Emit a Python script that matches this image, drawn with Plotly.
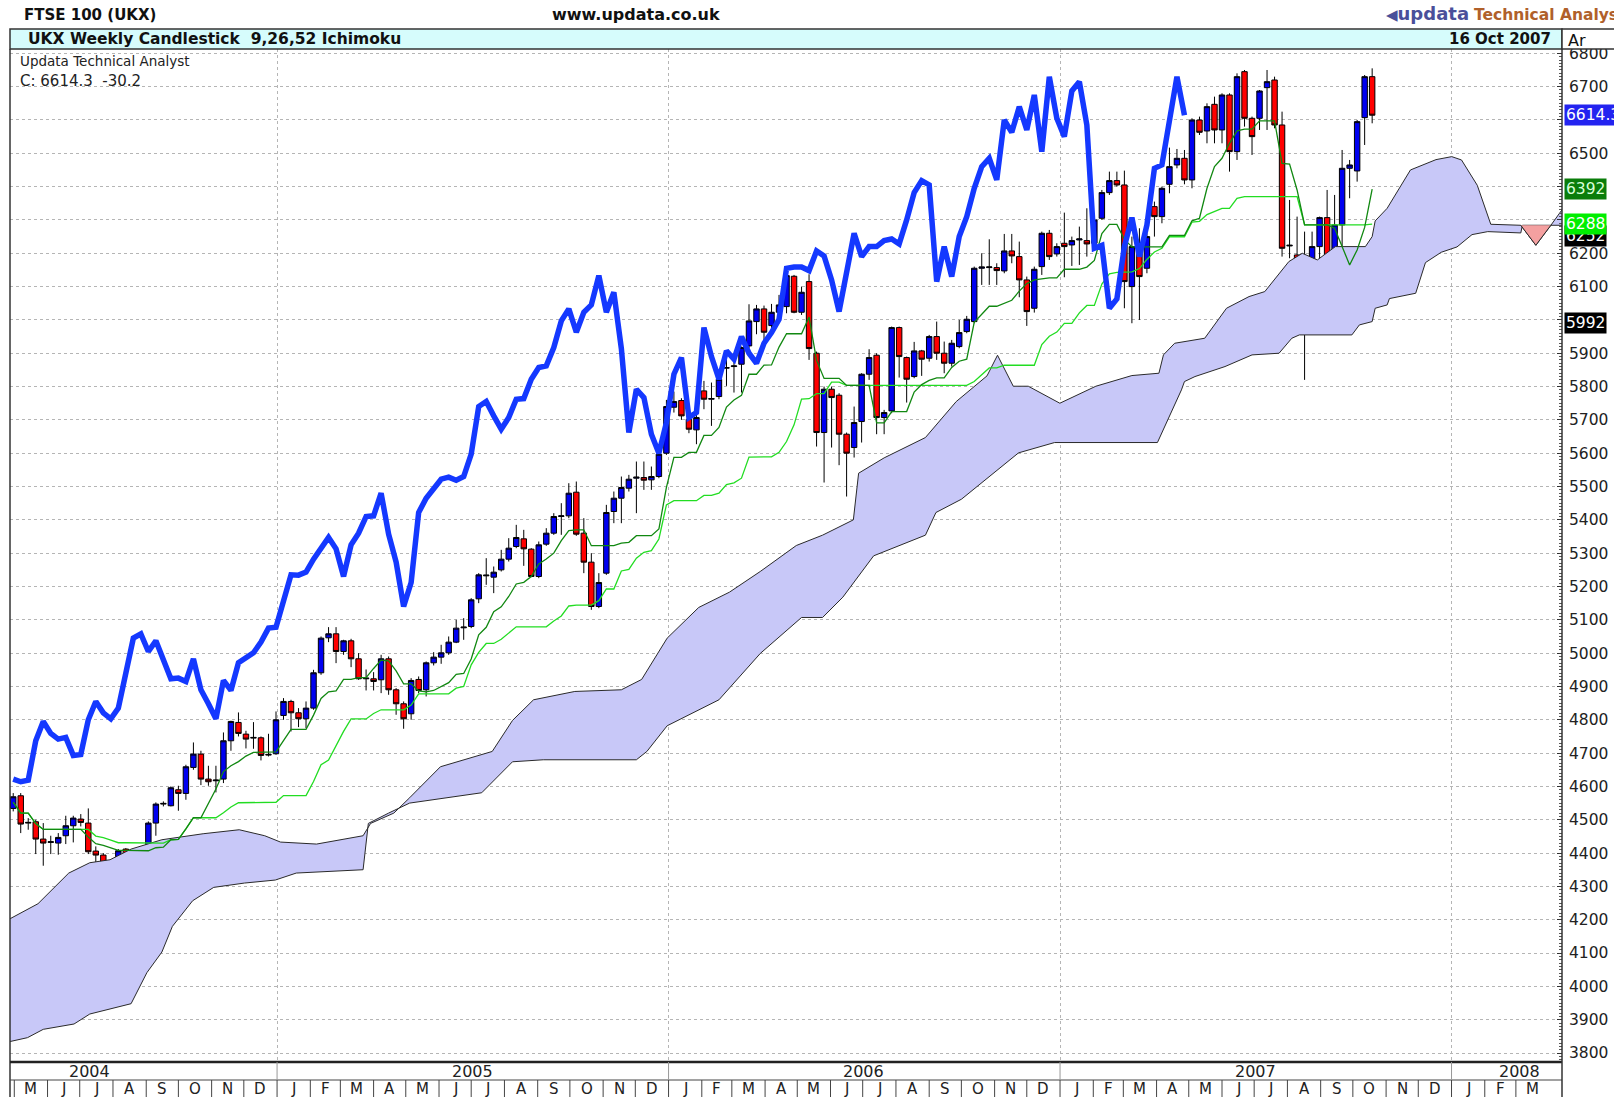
import pandas as pd
import plotly.graph_objects as go

# ---------------- weekly candles (UKX) ----------------
opens = [4534,4572,4490,4494,4442,4432,4430,4452,4482,4502,4490,4406,4394,4337,4324,4412,4337,4304,4370,4490,
         4547,4542,4590,4579,4657,4697,4622,4617,4622,4737,4792,4757,4745,4746,4694,4698,4813,4855,4821,4803,
         4835,4941,5046,5058,5005,5037,4983,4923,4923,4920,4983,4890,4848,4818,4921,4890,4971,4988,5001,5033,
         5076,5080,5163,5232,5228,5250,5282,5320,5343,5312,5230,5327,5360,5410,5412,5483,5360,5273,5140,5240,
         5425,5465,5495,5525,5527,5520,5530,5600,5738,5758,5702,5670,5787,5762,5770,5855,5860,5867,5922,5995,6033,
         5983,6023,6040,6131,6023,6115,5900,5662,5792,5774,5657,5617,5695,5837,5894,5707,5727,5977,5887,5830,
         5907,5885,5950,5900,5870,5920,5965,5995,6155,6157,6157,6147,6207,6190,6120,6035,6160,6260,6198,6230,
         6225,6240,6238,6230,6305,6382,6418,6405,6100,6200,6155,6340,6310,6407,6465,6485,6420,6600,6567,6647,
         6570,6675,6505,6745,6605,6605,6697,6720,6585,6222,6195,6070,6065,6220,6307,6197,6285,6455,6447,6607,
         6730]
highs = [4580,4580,4505,4500,4490,4452,4460,4512,4512,4517,4534,4420,4400,4357,4412,4415,4362,4382,4495,4552,
         4555,4600,4602,4665,4732,4707,4662,4662,4762,4797,4822,4767,4793,4750,4758,4825,4865,4860,4835,4855,
         4950,5050,5078,5078,5040,5043,5000,4951,4943,4995,4990,4895,4855,4925,4930,4975,5003,5025,5050,5100,
         5105,5165,5240,5285,5260,5310,5345,5385,5370,5315,5335,5375,5420,5450,5510,5515,5405,5300,5240,5445,
         5485,5530,5535,5575,5575,5560,5610,5760,5785,5765,5720,5730,5817,5812,5830,5882,5892,5920,6047,6045,6043,
         6048,6075,6135,6135,6100,6137,5905,5800,5800,5780,5662,5740,5840,5912,5900,5730,5980,5980,5890,5934,
         5910,5955,5995,5935,5940,6000,6012,6160,6200,6242,6170,6258,6258,6235,6130,6160,6265,6270,6230,6322,
         6250,6280,6335,6320,6390,6445,6445,6448,6250,6275,6260,6355,6400,6517,6513,6510,6605,6610,6650,6670,
         6680,6680,6740,6750,6610,6690,6750,6730,6625,6360,6310,6265,6265,6310,6390,6375,6510,6480,6600,6735,
         6755]
lows = [4525,4460,4470,4397,4362,4397,4395,4427,4432,4480,4397,4322,4312,4297,4282,4330,4292,4280,4365,4452,
        4540,4540,4527,4560,4650,4604,4602,4582,4610,4707,4750,4714,4713,4678,4690,4695,4800,4765,4778,4775,
        4830,4935,5033,4970,4995,4958,4920,4888,4888,4880,4875,4815,4773,4800,4880,4870,4963,4968,4995,5030,
        5040,5075,5150,5205,5180,5245,5275,5315,5262,5228,5225,5322,5355,5355,5405,5352,5240,5130,5135,5235,
        5390,5390,5485,5420,5490,5490,5525,5595,5722,5700,5660,5627,5732,5682,5762,5802,5782,5782,5915,5957,5923,
        5975,6010,6020,6020,6015,5880,5620,5512,5617,5564,5470,5587,5632,5820,5657,5657,5720,5827,5752,5825,
        5832,5875,5880,5840,5860,5915,5960,5990,6105,6105,6105,6140,6170,6068,5982,6022,6135,6180,6190,6128,
        6162,6165,6190,6225,6300,6375,6400,6035,5990,6000,6140,6250,6290,6380,6455,6407,6395,6555,6530,6530,
        6530,6445,6480,6580,6495,6570,6570,6575,6190,6185,6030,5820,6030,6170,6180,6125,6155,6365,6415,6525,
        6590]
closes = [4569,4487,4492,4442,4430,4434,4447,4482,4505,4492,4404,4394,4337,4324,4407,4334,4304,4367,4490,4547,
          4549,4596,4579,4659,4697,4622,4614,4619,4737,4795,4759,4742,4747,4693,4696,4800,4855,4821,4803,4835,
          4941,5045,5058,5005,5037,4983,4923,4925,4915,4983,4890,4848,4803,4918,4888,4971,4988,5001,5033,5075,
          5078,5160,5235,5234,5243,5282,5315,5347,5313,5230,5325,5360,5410,5412,5480,5357,5273,5140,5212,5422,
          5465,5497,5522,5528,5519,5530,5597,5740,5755,5712,5672,5707,5762,5764,5822,5857,5862,5917,5997,6033,5963,
          6023,6045,6133,6023,6083,5914,5662,5792,5767,5657,5600,5692,5837,5887,5707,5722,5977,5890,5822,5907,
          5882,5950,5900,5870,5930,5962,6002,6155,6159,6159,6148,6207,6192,6120,6025,6152,6260,6190,6220,6220,
          6238,6243,6228,6300,6382,6418,6405,6115,6220,6130,6250,6310,6395,6460,6485,6420,6600,6563,6640,6570,
          6675,6505,6730,6605,6550,6687,6715,6585,6215,6224,6035,6063,6220,6307,6190,6285,6455,6465,6595,6730,
          6614.3]
last_bar = "2007-10-19"

# ---------------- Ichimoku cloud spans (bar offset from last candle, value) ----------------
span_a_bar = [-181.5,-177.7,-173.6,-170.8,-168.1,-165.3,-161.2,-155.7,-150.9,-147.5,-145.4,-140.6,-134.4,-133.4,
              -130.3,-128.2,-124.1,-117.2,-114.5,-111.7,-106.2,-100.0,-97.3,-93.9,-89.7,-85.6,-81.5,-76.7,-73.2,
              -69.1,-68.4,-65.0,-59.5,-55.4,-51.3,-49.9,-47.8,-45.8,-41.6,-39.6,-36.8,-32.0,-28.4,-27.8,-26.3,
              -22.3,-19.4,-16.4,-14.3,-11.1,-9.3,-7.3,-4.9,-0.9,0.0,0.4,2.0,5.1,8.5,10.6,11.9,14.0,15.8,19.8,
              21.8,23.8,25.4]
span_a_val = [4202,4248,4340,4371,4380,4412,4440,4458,4470,4452,4433,4427,4452,4489,
              4520,4566,4659,4705,4798,4860,4885,4890,4921,5045,5137,5183,5245,5323,5354,
              5400,5540,5586,5647,5755,5832,5894,5801,5801,5750,5771,5801,5833,5840,5895,5930,
              5945,6035,6070,6085,6175,6200,6180,6220,6220,6250,6297,6335,6450,6481,6490,6480,6404,6287,6284,
              6224,6284,6334]
span_b_bar = [-181.5,-179.1,-177.0,-172.9,-170.8,-165.3,-163.2,-161.2,-159.8,-157.1,-154.3,-150.2,-146.1,-143.3,
              -134.4,-133.7,-131.0,-128.2,-118.6,-114.5,-110.4,-98.0,-96.6,-93.9,-87.0,-81.5,-76.0,-73.2,-70.5,
              -66.4,-59.5,-58.1,-54.7,-51.3,-47.1,-42.3,-28.6,-25.4,-25.0,-23.6,-19.6,-16.0,-12.4,-10.7,-9.7,
              -2.7,-1.7,0.0,0.4,2.0,2.3,5.8,7.1,9.2,11.3,13.3,15.4,19.8,20.0,25.4]
span_b_val = [3834,3846,3871,3887,3917,3948,4041,4103,4180,4257,4297,4310,4319,4340,
              4350,4489,4520,4550,4581,4674,4680,4680,4705,4782,4860,4999,5107,5107,5168,
              5292,5354,5422,5462,5524,5601,5632,5632,5790,5815,5830,5860,5895,5900,5945,5955,
              5955,5985,5995,6035,6045,6064,6080,6172,6203,6219,6256,6265,6261,6284,6284]

# ---------------- axis labels ----------------
year_labels = ["2004", "2005", "2006", "2007", "2008"]
year_label_dates = ["2004-07-10", "2005-07-02", "2006-07-02", "2007-07-02", "2008-03-04"]
year_starts = ["2005-01-01", "2006-01-01", "2007-01-01", "2008-01-01"]
first_month, last_month = "2004-05-01", "2008-03-01"
y_ticks = list(range(3800, 6900, 100))
hidden_tick_labels = [6400, 6300, 6000]   # covered by value flags in the original

# right-axis value flags: (text, value, bg, fg)
flags = [("6614.3", 6614.3, "#2323f0", "#ffffff"),
         ("6392", 6392, "#0a7d0a", "#d8ffd8"),
         ("6252", 6252, "#000000", "#ffffff"),
         ("6288", 6288, "#00ee00", "#ffffff"),
         ("5992", 5992, "#000000", "#ffffff")]

# ---------------- derived series ----------------
dates = pd.date_range(end=last_bar, periods=len(closes), freq="7D")
last_dt = pd.Timestamp(last_bar)
hs, ls = pd.Series(highs), pd.Series(lows)
tenkan = (hs.rolling(9, min_periods=1).max() + ls.rolling(9, min_periods=1).min()) / 2
kijun = (hs.rolling(26, min_periods=1).max() + ls.rolling(26, min_periods=1).min()) / 2
lag = 25
a_dates = [last_dt + pd.Timedelta(days=7 * w) for w in span_a_bar]
b_dates = [last_dt + pd.Timedelta(days=7 * w) for w in span_b_bar]
pink_idx = [k for k, w in enumerate(span_a_bar) if 19.8 <= w <= 23.8]

W, H = 1614, 1097
ML, MR, MT, MB = 10, 52, 49, 35
PW, PH = W - ML - MR, H - MT - MB


def px(x):
    return (x - ML) / PW


def py(y):
    return (H - MB - y) / PH


FONT = "DejaVu Sans, Verdana, sans-serif"
fig = go.Figure()

# cloud
fig.add_trace(go.Scatter(x=a_dates, y=span_a_val, mode="lines", line=dict(color="#2a2a2a", width=1),
                         hoverinfo="skip"))
fig.add_trace(go.Scatter(x=b_dates, y=span_b_val, mode="lines", line=dict(color="#2a2a2a", width=1),
                         fill="tonexty", fillcolor="#c8c8f8", hoverinfo="skip"))
fig.add_trace(go.Scatter(x=[a_dates[k] for k in pink_idx], y=[span_a_val[k] for k in pink_idx],
                         mode="lines", fill="toself", fillcolor="#f4a0a0",
                         line=dict(color="#2a2a2a", width=1), hoverinfo="skip"))

# candles
fig.add_trace(go.Candlestick(x=dates, open=opens, high=highs, low=lows, close=closes,
                             increasing=dict(fillcolor="#0000f0", line=dict(color="#000000", width=1)),
                             decreasing=dict(fillcolor="#ff0000", line=dict(color="#000000", width=1)),
                             whiskerwidth=0, hoverinfo="skip"))

# tenkan / kijun / chikou
fig.add_trace(go.Scatter(x=dates, y=kijun, mode="lines", line=dict(color="#22dd22", width=1.3)))
fig.add_trace(go.Scatter(x=dates, y=tenkan, mode="lines", line=dict(color="#118811", width=1.3)))
fig.add_trace(go.Scatter(x=dates[:-lag], y=closes[lag:], mode="lines",
                         line=dict(color="#1438ff", width=5.5)))

shapes = []
ann = []
# header
ann.append(dict(text="<b>FTSE 100 (UKX)</b>", x=px(22), y=py(15), xanchor="left", yanchor="middle",
                font=dict(size=15, color="#111", family=FONT)))
ann.append(dict(text="<b>www.updata.co.uk</b>", x=px(636), y=py(15), xanchor="center", yanchor="middle",
                font=dict(size=16, color="#111", family=FONT)))
ann.append(dict(text="<span style='color:#4a4f9a;font-size:15px'>◀</span>"
                     "<span style='color:#4a4f9a;font-size:18px'><b>updata</b></span> "
                     "<b><span style='color:#b0602a'>Technical Analyst</span></b>",
                x=px(1384), y=py(14), xanchor="left", yanchor="middle",
                font=dict(size=15.5, family=FONT)))
# title bar
shapes.append(dict(type="rect", xref="paper", yref="paper", x0=px(10), x1=1.0, y0=1.0, y1=py(29),
                   fillcolor="#d6fcfc", line=dict(color="#333", width=1.5), layer="above"))
shapes.append(dict(type="rect", xref="paper", yref="paper", x0=1.0, x1=px(1620), y0=1.0, y1=py(29),
                   fillcolor="#ffffff", line=dict(color="#333", width=1.5), layer="above"))
ann.append(dict(text="<b>UKX Weekly Candlestick  9,26,52 Ichimoku</b>", x=px(26), y=py(39),
                xanchor="left", yanchor="middle", font=dict(size=15.5, color="#111", family=FONT)))
ann.append(dict(text="<b>16 Oct 2007</b>", x=px(1553), y=py(39), xanchor="right", yanchor="middle",
                font=dict(size=15, color="#111", family=FONT)))
ann.append(dict(text="Ar", x=px(1566), y=py(40), xanchor="left", yanchor="middle",
                font=dict(size=16, color="#111", family=FONT)))
# info text
ann.append(dict(text="Updata Technical Analyst", x=px(18), y=py(61), xanchor="left", yanchor="middle",
                font=dict(size=13.5, color="#222", family=FONT)))
ann.append(dict(text="C: 6614.3  -30.2", x=px(18), y=py(81), xanchor="left", yanchor="middle",
                font=dict(size=15, color="#222", family=FONT)))

# frame
shapes.append(dict(type="line", xref="paper", yref="paper", x0=px(10), x1=px(10), y0=py(1100), y1=1.0,
                   line=dict(color="#333", width=1.5)))
shapes.append(dict(type="line", xref="paper", yref="paper", x0=px(10), x1=1.0, y0=0, y1=0,
                   line=dict(color="#222", width=2.5)))
shapes.append(dict(type="line", xref="paper", yref="paper", x0=px(10), x1=1.0, y0=py(1080), y1=py(1080),
                   line=dict(color="#444", width=1)))
shapes.append(dict(type="line", xref="paper", yref="paper", x0=1.0, x1=1.0, y0=py(1100), y1=1.0,
                   line=dict(color="#333", width=1.5)))

# year row
for ys in year_starts:
    shapes.append(dict(type="line", xref="x", yref="paper", x0=ys, x1=ys, y0=0, y1=py(1080),
                       line=dict(color="#999", width=1)))
for lab, d in zip(year_labels, year_label_dates):
    ann.append(dict(text=lab, x=d, xref="x", y=py(1071), xanchor="center", yanchor="middle",
                    font=dict(size=16, color="#222", family=FONT)))
# month row
months = pd.date_range(first_month, last_month, freq="MS")
for m in months:
    nxt = m + pd.offsets.MonthBegin(1)
    mid = m + (nxt - m) / 2
    shapes.append(dict(type="line", xref="x", yref="paper", x0=m, x1=m, y0=py(1080), y1=py(1100),
                       line=dict(color="#444", width=1)))
    ann.append(dict(text=m.strftime("%B")[0], x=mid, xref="x", y=py(1089), xanchor="center",
                    yanchor="middle", font=dict(size=15, color="#222", family=FONT)))

# right axis flags
for t, v, bg, fg in flags:
    ann.append(dict(text=t, x=1.0, y=v, xref="paper", yref="y", xanchor="left", yanchor="middle",
                    xshift=2, bgcolor=bg, borderpad=1, font=dict(size=15.5, color=fg, family=FONT)))

for a in ann:
    a.setdefault("xref", "paper")
    a.setdefault("yref", "paper")
    a["showarrow"] = False

tick_text = ["" if v in hidden_tick_labels else str(v) for v in y_ticks]

fig.update_layout(
    width=W, height=H, margin=dict(l=ML, r=MR, t=MT, b=MB, autoexpand=False),
    paper_bgcolor="white", plot_bgcolor="white", showlegend=False, hovermode=False,
    font=dict(family=FONT), boxgap=0.15, boxgroupgap=0.15,
    shapes=shapes, annotations=ann,
    xaxis=dict(type="date", range=["2004-04-27", "2008-04-13"], rangeslider=dict(visible=False),
               tickvals=year_starts, showticklabels=False, ticks="", automargin=False,
               showgrid=True, gridcolor="#b5b5b5", griddash="dot", gridwidth=1,
               showline=False, zeroline=False),
    yaxis=dict(side="right", range=[3773, 6813], tickvals=y_ticks, ticktext=tick_text, automargin=False,
               showgrid=True, gridcolor="#b5b5b5", griddash="dot", gridwidth=1,
               ticks="inside", ticklen=5, tickcolor="#333",
               minor=dict(dtick=10, ticks="inside", ticklen=3, tickcolor="#555", showgrid=False),
               tickfont=dict(size=15.5, color="#222", family=FONT), ticklabelstandoff=6,
               showline=False, zeroline=False),
)

fig.write_html("out.html", config={"displayModeBar": False, "staticPlot": True},
               post_script="document.body.style.margin='0';document.body.style.overflow='hidden';")
